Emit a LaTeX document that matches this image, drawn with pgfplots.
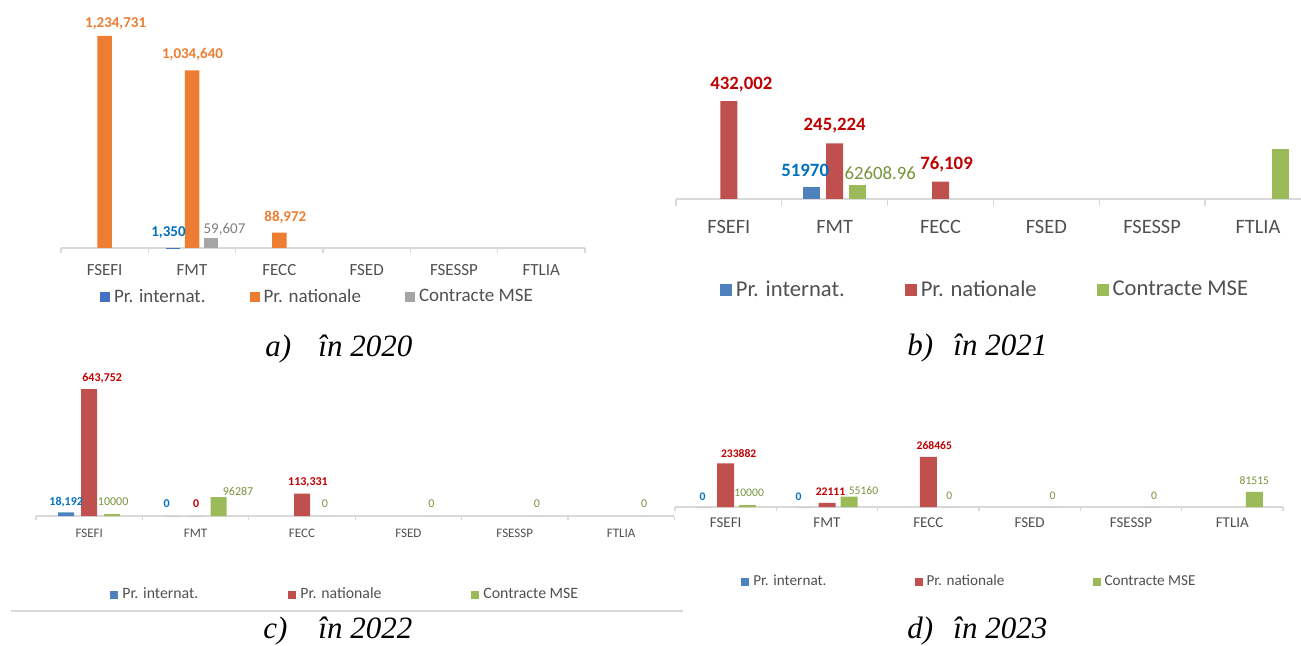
\documentclass[border=0pt]{standalone}
\usepackage{pgfplots}
\pgfplotsset{compat=1.18}
\usepackage{fontspec}
\setmainfont{Carlito}
\newfontfamily\capfont{Liberation Serif}
\definecolor{blueA}{HTML}{4472C4}
\definecolor{orangeA}{HTML}{ED7D31}
\definecolor{greyA}{HTML}{A5A5A5}
\definecolor{blueB}{HTML}{4F81BD}
\definecolor{redB}{HTML}{C0504D}
\definecolor{greenB}{HTML}{9BBB59}
\definecolor{labBlue}{HTML}{0070C0}
\definecolor{labRed}{HTML}{C00000}
\definecolor{labGreen}{HTML}{77933C}
\definecolor{labGrey}{HTML}{7F7F7F}
\definecolor{axgrey}{HTML}{D9D9D9}
\definecolor{txtgrey}{HTML}{505050}
\newcommand\capf{\capfont\itshape\fontsize{15.5}{18}\selectfont}

\pgfplotsset{
  panel/.style={
    scale only axis, ybar, clip=false, anchor=south west,
    xmin=-0.5, xmax=5.5, ymin=0,
    axis x line*=bottom, hide y axis,
    xtick={0,...,5},
    xticklabels={FSEFI,FMT,FECC,FSED,FSESSP,FTLIA},
    minor xtick={-0.5,0.5,...,5.5},
    major tick length=0pt, tick align=outside,
    axis line style={draw=axgrey, line width=0.6pt},
    minor tick style={draw=axgrey, line width=0.6pt},
    xticklabel style={anchor=center, text=txtgrey},
    legend columns=3,
    legend style={draw=none, fill=none, anchor=center, text=txtgrey},
  },
  lab/.style={nodes near coords, point meta=explicit symbolic,
    nodes near coords align=center,
    visualization depends on={value \thisrow{dx}\as\dx},
    visualization depends on={value \thisrow{dy}\as\dy},
    every node near coord/.append style={anchor=center, font=#1,
      xshift=\dx*0.5pt, yshift=\dy*0.5pt}},
  % square legend key; the empty path above it lowers it to the text middle
  sq/.style 2 args={legend image code/.code={%
    \fill[##1] (0pt,-#1/2) rectangle (#1,#1/2);
    \path (0pt,#1/2+#2);}},
}

\begin{document}
\begin{tikzpicture}
\useasboundingbox (0,0) rectangle (650.5pt,-323pt);

% a) 2020
\begin{axis}[panel, at={(30.5pt,-124pt)}, width=262pt, height=119pt,
  ymax=1386000, bar width=7.25pt, minor tick length=2.5pt,
  xticklabel style={font=\fontsize{8.5}{10}\selectfont, yshift=-11pt},
  legend style={at={(0.4914,-0.2059)}, font=\fontsize{9.5}{11}\selectfont,
    /tikz/every even column/.append style={column sep=20pt}}]
\addplot[fill=blueA, draw=none, bar shift=-9.5pt, sq={5pt}{3pt},
  lab={\fontsize{7.5}{9}\selectfont\bfseries},
  every node near coord/.append style={text=labBlue}]
  table[x=x,y=y,meta=t]{
x y t dx dy
1 1350 1,350 -4.5 15
};
\addplot[fill=orangeA, draw=none, bar shift=0pt, sq={5pt}{3pt},
  lab={\fontsize{7.5}{9}\selectfont\bfseries},
  every node near coord/.append style={text=orangeA}]
  table[x=x,y=y,meta=t]{
x y t dx dy
0 1234731 1,234,731 11 12
1 1034640 1,034,640 0.5 16
2 88972 88,972 6 15
};
\addplot[fill=greyA, draw=none, bar shift=9.5pt, sq={5pt}{3pt},
  lab={\fontsize{7.5}{9}\selectfont},
  every node near coord/.append style={text=labGrey}]
  table[x=x,y=y,meta=t]{
x y t dx dy
1 59607 59,607 13.5 8
};
\legend{Pr. internat., Pr. nationale, Contracte MSE}
\end{axis}

% b) 2021
\begin{axis}[panel, at={(338pt,-99.5pt)}, width=312.5pt, height=69.5pt,
  xmax=5.407, ymax=612737, bar width=8.5pt, minor tick length=3.5pt,
  xticklabel style={font=\fontsize{10.2}{12}\selectfont, yshift=-14pt},
  legend style={at={(0.496,-0.655)}, font=\fontsize{11.3}{13}\selectfont,
    /tikz/every even column/.append style={column sep=28pt}}]
\addplot[fill=blueB, draw=none, bar shift=-11.5pt, sq={6pt}{3pt},
  lab={\fontsize{9.4}{11}\selectfont\bfseries},
  every node near coord/.append style={text=labBlue}]
  table[x=x,y=y,meta=t]{
x y t dx dy
1 51970 51970 -6.5 17
};
\addplot[fill=redB, draw=none, bar shift=0pt, sq={6pt}{3pt},
  lab={\fontsize{9.4}{11}\selectfont\bfseries},
  every node near coord/.append style={text=labRed}]
  table[x=x,y=y,meta=t]{
x y t dx dy
0 432002 432,002 12.5 16
1 245224 245,224 0 17.4
2 76109 76,109 6 17.7
};
\addplot[fill=greenB, draw=none, bar shift=11.5pt, sq={6pt}{3pt},
  lab={\fontsize{9.4}{11}\selectfont},
  every node near coord/.append style={text=labGreen}]
  table[x=x,y=y,meta=t]{
x y t dx dy
1 62608.96 62608.96 22.5 12
};
\addplot[fill=greenB, draw=none, bar shift=11.5pt, forget plot]
  coordinates {(5,220000)};
\legend{Pr. internat., Pr. nationale, Contracte MSE}
\end{axis}

% c) 2022
\begin{axis}[panel, at={(18pt,-258pt)}, width=319.2pt, height=73pt,
  ymax=740061, bar width=8pt, minor tick length=2pt,
  xticklabel style={font=\fontsize{6.5}{8}\selectfont, yshift=-8.5pt},
  legend style={at={(0.486,-0.541)}, font=\fontsize{7.9}{9}\selectfont,
    /tikz/every even column/.append style={column sep=43pt}}]
\addplot[fill=blueB, draw=none, bar shift=-11.5pt, sq={4pt}{2pt},
  lab={\fontsize{6}{7}\selectfont\bfseries},
  every node near coord/.append style={text=labBlue}]
  table[x=x,y=y,meta=t]{
x y t dx dy
0 18192 18,192 0 10
1 0 0 -6 12
};
\addplot[fill=redB, draw=none, bar shift=0pt, sq={4pt}{2pt},
  lab={\fontsize{6}{7}\selectfont\bfseries},
  every node near coord/.append style={text=labRed}]
  table[x=x,y=y,meta=t]{
x y t dx dy
0 643752 643,752 13 11
1 0 0 0.5 12
2 113331 113,331 6 11.6
};
\addplot[fill=greenB, draw=none, bar shift=11.5pt, sq={4pt}{2pt},
  lab={\fontsize{6}{7}\selectfont},
  every node near coord/.append style={text=labGreen}]
  table[x=x,y=y,meta=t]{
x y t dx dy
0 10000 10000 1 12
1 96287 96287 19.5 6
2 0 0 0 12
3 0 0 0 12
4 0 0 -1 12
5 0 0 0 12
};
\legend{Pr. internat., Pr. nationale, Contracte MSE}
\end{axis}

% d) 2023
\begin{axis}[panel, at={(337.5pt,-253.5pt)}, width=304pt, height=38.5pt,
  ymax=411765, bar width=8.5pt, minor tick length=2pt,
  xticklabel style={font=\fontsize{7.5}{9}\selectfont, yshift=-8pt},
  legend style={at={(0.486,-0.974)}, font=\fontsize{7.6}{9}\selectfont,
    /tikz/every even column/.append style={column sep=42pt}}]
\addplot[fill=blueB, draw=none, bar shift=-11pt, sq={4pt}{2pt},
  lab={\fontsize{5.8}{7}\selectfont\bfseries},
  every node near coord/.append style={text=labBlue}]
  table[x=x,y=y,meta=t]{
x y t dx dy
0 0 0 -1 10
1 0 0 -6.5 10
};
\addplot[fill=redB, draw=none, bar shift=0pt, sq={4pt}{2pt},
  lab={\fontsize{5.8}{7}\selectfont\bfseries},
  every node near coord/.append style={text=labRed}]
  table[x=x,y=y,meta=t]{
x y t dx dy
0 233882 233882 13 9.3
1 22111 22111 3.5 11
2 268465 268465 6 10.8
};
\addplot[fill=greenB, draw=none, bar shift=11pt, sq={4pt}{2pt},
  lab={\fontsize{5.8}{7}\selectfont},
  every node near coord/.append style={text=labGreen}]
  table[x=x,y=y,meta=t]{
x y t dx dy
0 10000 10000 1.5 12
1 55160 55160 14.5 5.7
2 0 0 -1 11
3 0 0 1 11
4 0 0 1 11
5 81515 81515 0 11
};
\legend{Pr. internat., Pr. nationale, Contracte MSE}
\end{axis}

% separator under c)
\draw[draw=axgrey, line width=0.6pt] (5.5pt,-305.5pt) -- (341.5pt,-305.5pt);

% captions
\node[anchor=base west, inner sep=0pt, font=\capf] at (132.5pt,-178.5pt) {a)};
\node[anchor=base west, inner sep=0pt, font=\capf] at (159pt,-178.5pt) {în 2020};
\node[anchor=base west, inner sep=0pt, font=\capf] at (453.5pt,-178pt) {b)};
\node[anchor=base west, inner sep=0pt, font=\capf] at (476.5pt,-178pt) {în 2021};
\node[anchor=base west, inner sep=0pt, font=\capf] at (131.5pt,-319pt) {c)};
\node[anchor=base west, inner sep=0pt, font=\capf] at (159pt,-319pt) {în 2022};
\node[anchor=base west, inner sep=0pt, font=\capf] at (453.5pt,-319pt) {d)};
\node[anchor=base west, inner sep=0pt, font=\capf] at (476.5pt,-319pt) {în 2023};
\end{tikzpicture}
\end{document}
